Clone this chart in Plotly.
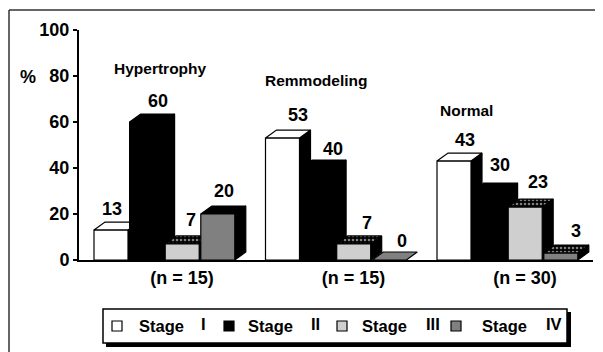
import plotly.graph_objects as go

# ---------------- data ----------------
groups = ["Hypertrophy", "Remmodeling", "Normal"]
group_n = ["(n = 15)", "(n = 15)", "(n = 30)"]
stage_numerals = ["I", "II", "III", "IV"]
stage_I = [13, 53, 43]
stage_II = [60, 40, 30]
stage_III = [7, 7, 23]
stage_IV = [20, 0, 3]
y_ticks = [0, 20, 40, 60, 80, 100]

series = [stage_I, stage_II, stage_III, stage_IV]

# ---------------- layout constants ----------------
W, H = 603, 352
OFF = 8                    # page (body) margin of the html page
ML, MR, MT, MB = 71, 18, 22, 100
PW = W - ML - MR           # plot width in px (1 x-unit = 1 px)
PH = H - MT - MB           # plot height in px
Y_MAX = 100
PX_PER_Y = PH / Y_MAX

X_START = 15
GROUP_STEP = 171.5
PITCH = 35.6
BAR_W = 34
DX = 11                    # depth (px / x-units)
DY = 8 / PX_PER_Y          # depth in y units

# hand placement of value labels in the original (px nudges, per group/stage)
LABEL_DX = [[-4.5, 6, 3, 1], [10, 9.5, 8, 7], [5.5, 5, 7, 10]]
LABEL_GAP = [[6, 6, 9, 8], [8, 4, 6, 4], [6, 11, 10, 7]]

FONT = "Liberation Sans, Arial, sans-serif"
front_colors = ["#ffffff", "#000000", "#cfcfcf", "#808080"]
top_colors = ["#ffffff", "#000000", None, "#000000"]


def px_to_paper(px, py):
    """screen pixel -> paper coords"""
    return (px - OFF - ML) / PW, (H - MB - (py - OFF)) / PH


fig = go.Figure()


def poly(xs, ys, fillcolor, pattern=None, lw=1.2):
    kw = dict(
        x=xs + [xs[0]], y=ys + [ys[0]], mode="lines", fill="toself",
        fillcolor=fillcolor, line=dict(color="black", width=lw),
        hoverinfo="skip", showlegend=False,
    )
    if pattern:
        kw["fillpattern"] = pattern
    fig.add_trace(go.Scatter(**kw))


annotations = []
for g in range(len(groups)):
    for s, vals in enumerate(series):
        v = vals[g]
        x0 = X_START + g * GROUP_STEP + s * PITCH
        x1 = x0 + BAR_W
        # side face
        if v > 0:
            poly([x1, x1 + DX, x1 + DX, x1], [0, DY, v + DY, v], "#000000")
        # top face
        tx = [x0, x0 + DX, x1 + DX, x1]
        ty = [v, v + DY, v + DY, v]
        if s == 2 or (s == 3 and 0 < v < 5):
            poly(tx, ty, "#000000",
                 pattern=dict(shape=".", bgcolor="#000000", fgcolor="#ffffff",
                              size=4, solidity=0.35))
        elif v == 0:
            poly(tx, ty, front_colors[s])
        else:
            poly(tx, ty, top_colors[s])
        # front face
        if v > 0:
            poly([x0, x1, x1, x0], [0, 0, v, v], front_colors[s])
        # value label
        annotations.append(dict(
            x=(x0 + x1) / 2 + DX / 2 + LABEL_DX[g][s], y=v + DY,
            xref="x", yref="y",
            text=str(v), showarrow=False, yanchor="bottom",
            yshift=LABEL_GAP[g][s] - 5,
            font=dict(family=FONT, size=18, color="black", weight="bold"),
        ))

# group titles
title_pos = [(160, 68), (316, 80), (466, 110)]
for name, (tx, ty) in zip(groups, title_pos):
    px, py = px_to_paper(tx, ty)
    annotations.append(dict(
        x=px, y=py, xref="paper", yref="paper", text=name, showarrow=False,
        xanchor="center", yanchor="middle",
        font=dict(family=FONT, size=15.5, color="black", weight="bold"),
    ))

# % label
px, py = px_to_paper(28, 77)
annotations.append(dict(
    x=px, y=py, xref="paper", yref="paper", text="%", showarrow=False,
    xanchor="center", yanchor="middle",
    font=dict(family=FONT, size=18, color="black", weight="bold"),
))

shapes = []
# outer frame (top and left lines)
fx0, fy0 = px_to_paper(9, 10)
fx1, fy1 = px_to_paper(W + 20, H + 20)
shapes.append(dict(type="line", xref="paper", yref="paper",
                   x0=fx0, y0=fy0, x1=fx1, y1=fy0,
                   line=dict(color="#333333", width=1.5)))
shapes.append(dict(type="line", xref="paper", yref="paper",
                   x0=fx0, y0=fy0, x1=fx0, y1=fy1,
                   line=dict(color="#333333", width=1.5)))

# legend box with shadow
lx0, ly0 = px_to_paper(106, 312)
lx1, ly1 = px_to_paper(571, 347)
shapes.append(dict(type="rect", xref="paper", yref="paper",
                   x0=lx0, y0=ly0, x1=lx1, y1=ly1,
                   fillcolor="black", line=dict(width=0)))
lx0, ly0 = px_to_paper(103, 309)
lx1, ly1 = px_to_paper(567, 343)
shapes.append(dict(type="rect", xref="paper", yref="paper",
                   x0=lx0, y0=ly0, x1=lx1, y1=ly1,
                   fillcolor="white", line=dict(color="black", width=1.5)))

sq_x = [112, 224, 337, 451]
stage_x = [137, 246, 360, 480]
num_x = [199, 309, 424, 544]
LEG_Y = 326
for i in range(4):
    a0, b0 = px_to_paper(sq_x[i], LEG_Y - 5)
    a1, b1 = px_to_paper(sq_x[i] + 10, LEG_Y + 5)
    shapes.append(dict(type="rect", xref="paper", yref="paper",
                       x0=a0, y0=b0, x1=a1, y1=b1,
                       fillcolor=front_colors[i],
                       line=dict(color="black", width=1.2)))
    a, b = px_to_paper(stage_x[i], LEG_Y)
    annotations.append(dict(
        x=a, y=b, xref="paper", yref="paper", text="Stage", showarrow=False,
        xanchor="left", yanchor="middle",
        font=dict(family=FONT, size=16.5, color="black", weight="bold"),
    ))
    a, b = px_to_paper(num_x[i], LEG_Y - 2)
    annotations.append(dict(
        x=a, y=b, xref="paper", yref="paper", text=stage_numerals[i],
        showarrow=False, xanchor="left", yanchor="middle",
        font=dict(family=FONT, size=16.5, color="black", weight="bold"),
    ))

fig.update_layout(
    width=W, height=H,
    margin=dict(l=ML, r=MR, t=MT, b=MB, pad=0),
    paper_bgcolor="white", plot_bgcolor="white",
    showlegend=False,
    annotations=annotations,
    shapes=shapes,
    xaxis=dict(
        range=[0, PW], showgrid=False, zeroline=False,
        showline=True, linecolor="black", linewidth=2,
        tickmode="array",
        tickvals=[X_START + g * GROUP_STEP + 88 for g in range(len(groups))],
        ticktext=group_n, ticks="",
        tickfont=dict(family=FONT, size=18, color="black", weight="bold"),
        fixedrange=True,
    ),
    yaxis=dict(
        range=[0, Y_MAX], showgrid=False, zeroline=False,
        showline=True, linecolor="black", linewidth=2,
        tickmode="array", tickvals=y_ticks,
        ticks="outside", ticklen=4, tickwidth=2, tickcolor="black",
        tickfont=dict(family=FONT, size=18, color="black", weight="bold"),
        fixedrange=True,
    ),
)

fig.write_html("out.html")
